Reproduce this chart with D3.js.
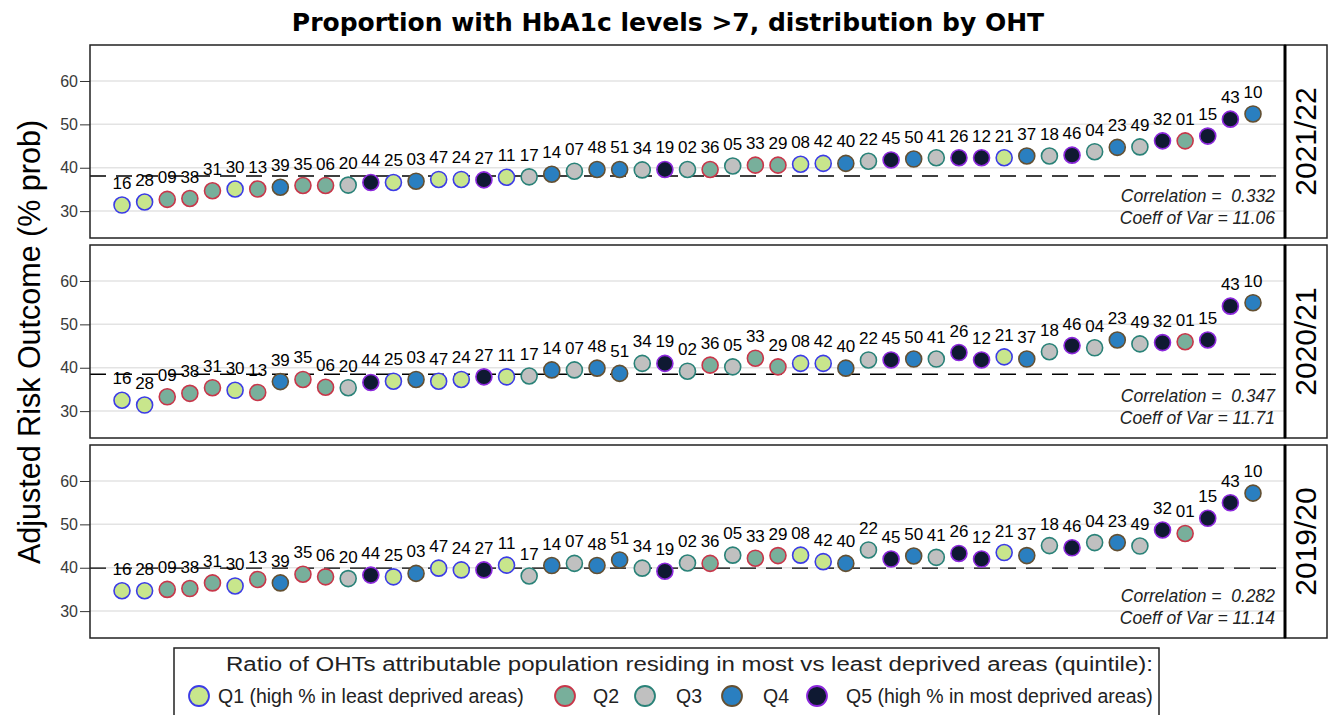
<!DOCTYPE html>
<html>
<head>
<meta charset="utf-8">
<script src="https://cdn.jsdelivr.net/npm/d3@7"></script>
<style>
body { margin: 0; background: #fff; }
text { font-family: "Liberation Sans", Arial, sans-serif; }
</style>
</head>
<body>
<div id="chart"></div>
<script>
// OHT codes in plotting order (sorted on 2021/22)
let ohts = ["16","28","09","38","31","30","13","39","35","06","20","44","25","03","47","24","27","11","17","14","07","48","51","34","19","02","36","05","33","29","08","42","40","22","45","50","41","26","12","21","37","18","46","04","23","49","32","01","15","43","10"];
let quintile = [1,1,2,2,2,1,2,4,2,2,3,5,1,4,1,1,5,1,3,4,3,4,4,3,5,3,2,3,2,2,1,1,4,3,5,4,3,5,5,1,4,3,5,3,4,3,5,2,5,5,4];

let years = ["2021/22","2020/21","2019/20"];
let vals2122 = [31.4,32.1,32.7,32.9,34.7,35.1,35.1,35.5,35.9,35.9,36.0,36.6,36.6,36.9,37.3,37.3,37.2,37.8,37.9,38.5,39.2,39.6,39.6,39.5,39.6,39.6,39.6,40.4,40.6,40.6,40.8,41.0,41.0,41.5,41.8,42.0,42.3,42.3,42.3,42.3,42.7,42.7,42.9,43.7,44.7,44.8,46.2,46.2,47.3,51.2,52.4];
let vals2021 = [32.5,31.4,33.3,34.1,35.4,34.8,34.3,36.8,37.3,35.5,35.4,36.6,36.9,37.3,36.9,37.3,37.9,37.9,38.1,39.5,39.5,39.9,38.7,41.0,41.0,39.2,40.6,40.2,42.2,40.2,41.0,41.0,39.9,41.8,41.8,42.0,42.0,43.5,41.8,42.5,42.0,43.7,45.1,44.6,46.4,45.5,45.8,46.0,46.4,54.2,55.0];
let vals1920 = [34.7,34.7,35.0,35.2,36.5,35.8,37.3,36.5,38.5,37.9,37.5,38.3,37.9,38.7,39.9,39.5,39.5,40.6,38.1,40.5,41.0,40.5,41.8,39.9,39.2,41.1,41.0,42.9,42.2,42.8,42.9,41.4,41.0,44.1,42.0,42.7,42.4,43.3,42.0,43.5,42.8,45.1,44.6,45.8,45.8,45.0,48.7,47.9,51.4,55.0,57.2];
let refValues = [38.1,38.5,39.9];
let correlations = ["0.332","0.347","0.282"];
let coeffVar = ["11.06","11.71","11.14"];
let yTicks = [30,40,50,60];

let quintileLabels = ["Q1 (high % in least deprived areas)","Q2","Q3","Q4","Q5 (high % in most deprived areas)"];
let fills = ["#c8e68c","#78af9b","#c0c0c0","#2a7fc0","#0f1932"];
let strokes = ["#3c3ce6","#c8374a","#2a8278","#645032","#8c28dc"];

let width = 1331;
let height = 715;
let left = 90;
let right = 1285;
let stripW = 42;
let panelTops = [45,245,445];
let panelH = 193;

let chart = d3.select("#chart")
.append("svg")
.attr("width", width).attr("height", height);

chart.append("text").text("Proportion with HbA1c levels >7, distribution by OHT")
.attr("x", 668).attr("y", 31)
.attr("text-anchor", "middle")
.style("font-family", "'DejaVu Sans', sans-serif")
.style("font-weight", "bold")
.style("font-size", "25px");

chart.append("text").text("Adjusted Risk Outcome (% prob)")
.attr("transform", "translate(40,342) rotate(-90)")
.attr("text-anchor", "middle")
.style("font-size", "30.5px");

let xscale = d3.scalePoint().domain(ohts).range([left + 32, right - 32]);

let series = [vals2122, vals2021, vals1920];

series.forEach(function(vals, p){
    let top = panelTops[p];
    let yscale = d3.scaleLinear().domain([23.8, 68.3]).range([top + panelH, top]);
    let g = chart.append("g");

    // gridlines
    g.selectAll(".grid").data(yTicks).enter().append("line")
    .attr("x1", left).attr("x2", right)
    .attr("y1", function(d){ return yscale(d); })
    .attr("y2", function(d){ return yscale(d); })
    .attr("stroke", "#e3e3e3").attr("stroke-width", 1.5);

    let yAxis = d3.axisLeft(yscale).tickValues(yTicks).tickSize(10).tickPadding(2);
    let ax = g.append("g").attr("transform", "translate(" + left + ",0)").call(yAxis);
    ax.select(".domain").remove();
    ax.selectAll("line").attr("stroke", "#333");
    ax.selectAll("text")
    .style("font-family", "'Liberation Sans', Arial, sans-serif")
    .style("font-size", "16px")
    .attr("fill", "#3a3a3a");

    // reference line
    g.append("line")
    .attr("x1", left).attr("x2", right)
    .attr("y1", yscale(refValues[p])).attr("y2", yscale(refValues[p]))
    .attr("stroke", "#000").attr("stroke-width", 1.3)
    .attr("stroke-dasharray", "16,10");

    let idx = d3.range(ohts.length);

    g.selectAll(".lbl").data(idx).enter().append("text")
    .text(function(i){ return ohts[i]; })
    .attr("x", function(i){ return xscale(ohts[i]); })
    .attr("y", function(i){ return yscale(vals[i]) - 16; })
    .attr("text-anchor", "middle")
    .style("font-size", "17px");

    g.selectAll(".pt").data(idx).enter().append("circle")
    .attr("cx", function(i){ return xscale(ohts[i]); })
    .attr("cy", function(i){ return yscale(vals[i]); })
    .attr("r", 8)
    .attr("fill", function(i){ return fills[quintile[i] - 1]; })
    .attr("stroke", function(i){ return strokes[quintile[i] - 1]; })
    .attr("stroke-width", 1.6);

    g.append("text")
    .text("Correlation =  " + correlations[p])
    .attr("x", right - 10).attr("y", top + 157)
    .attr("text-anchor", "end")
    .style("white-space", "pre")
    .style("font-style", "italic")
    .style("font-size", "17.5px")
    .attr("fill", "#222");
    g.append("text")
    .text("Coeff of Var = " + coeffVar[p])
    .attr("x", right - 10).attr("y", top + 179)
    .attr("text-anchor", "end")
    .style("font-style", "italic")
    .style("font-size", "17.5px")
    .attr("fill", "#222");

    // frame + strip
    g.append("rect")
    .attr("x", left).attr("y", top)
    .attr("width", right - left).attr("height", panelH)
    .attr("fill", "none").attr("stroke", "#222").attr("stroke-width", 1.5);
    g.append("rect")
    .attr("x", right).attr("y", top)
    .attr("width", stripW).attr("height", panelH)
    .attr("fill", "none").attr("stroke", "#222").attr("stroke-width", 1.5);
    g.append("line")
    .attr("x1", right).attr("x2", right)
    .attr("y1", top).attr("y2", top + panelH)
    .attr("stroke", "#000").attr("stroke-width", 3);
    g.append("text").text(years[p])
    .attr("transform", "translate(" + (right + 31) + "," + (top + panelH / 2) + ") rotate(-90)")
    .attr("text-anchor", "middle")
    .style("font-size", "30px");
});

// legend
let legend = chart.append("g");
legend.append("rect")
.attr("x", 174).attr("y", 648).attr("width", 985).attr("height", 80)
.attr("fill", "none").attr("stroke", "#222").attr("stroke-width", 1.5);
legend.append("text")
.text("Ratio of OHTs attributable population residing in most vs least deprived areas (quintile):")
.attr("x", 226).attr("y", 671)
.attr("textLength", 927)
.attr("lengthAdjust", "spacingAndGlyphs")
.style("font-size", "19.5px")
.attr("fill", "#222");

let legX = [199, 565, 645, 732, 817];
let legTextX = [218, 593, 676, 763, 846];
quintileLabels.forEach(function(lab, i){
    legend.append("circle")
    .attr("cx", legX[i]).attr("cy", 696).attr("r", 10)
    .attr("fill", fills[i]).attr("stroke", strokes[i]).attr("stroke-width", 1.8);
    legend.append("text").text(lab)
    .attr("x", legTextX[i]).attr("y", 703)
    .style("font-size", "19.5px")
    .attr("fill", "#222");
});
</script>
</body>
</html>
